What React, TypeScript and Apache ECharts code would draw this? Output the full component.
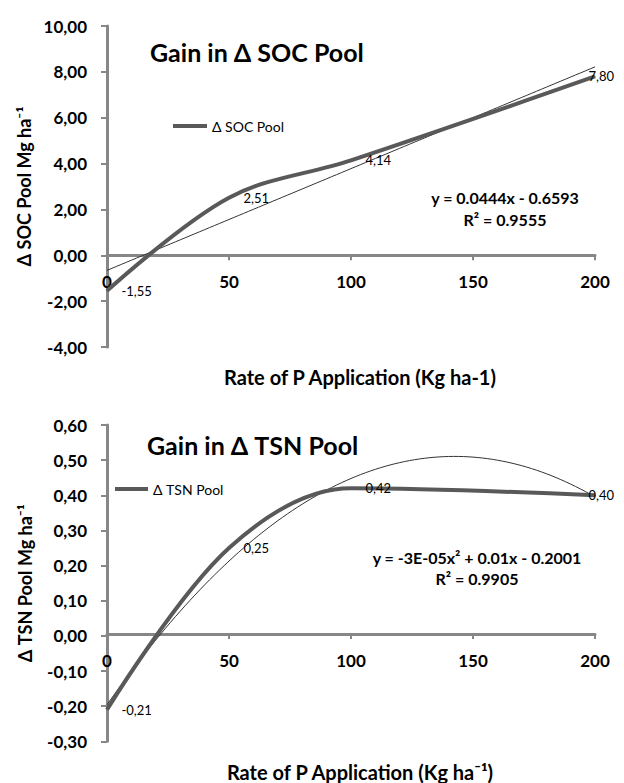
import React, { useEffect, useRef } from 'react';
import * as echarts from 'echarts';

const rates = [0, 50, 100, 200];
const socGain = [-1.55, 2.51, 4.14, 7.8];
const tsnGain = [-0.21, 0.25, 0.42, 0.4];
const socName = 'Δ SOC Pool';
const tsnName = 'Δ TSN Pool';
const socTitle = 'Gain in Δ SOC Pool';
const tsnTitle = 'Gain in Δ TSN Pool';
const socEquation = ['y = 0.0444x - 0.6593', 'R² = 0.9555'];
const tsnEquation = ['y = -3E-05x² + 0.01x - 0.2001', 'R² = 0.9905'];
const xAxisTitles = ['Rate of P Application (Kg ha-1)', 'Rate of P Application (Kg ha⁻¹)'];
const yAxisTitles = ['Δ SOC Pool Mg ha⁻¹', 'Δ TSN Pool Mg ha⁻¹'];
const socRange = [-4, 10, 2];
const tsnRange = [-0.3, 0.6, 0.1];

const FONT = 'Lato, "Open Sans", sans-serif';

// least-squares polynomial fit (degree 1 or 2) of the plotted data
function polyFit(xs: number[], ys: number[], deg: number): number[] {
  const n = deg + 1;
  const A: number[][] = [];
  for (let i = 0; i < n; i++) {
    const row: number[] = [];
    for (let j = 0; j < n; j++) {
      row.push(xs.reduce((s, x) => s + Math.pow(x, i + j), 0));
    }
    row.push(xs.reduce((s, x, k) => s + Math.pow(x, i) * ys[k], 0));
    A.push(row);
  }
  for (let i = 0; i < n; i++) {
    let p = i;
    for (let r = i + 1; r < n; r++) if (Math.abs(A[r][i]) > Math.abs(A[p][i])) p = r;
    [A[i], A[p]] = [A[p], A[i]];
    for (let r = 0; r < n; r++) {
      if (r === i) continue;
      const f = A[r][i] / A[i][i];
      for (let c = i; c <= n; c++) A[r][c] -= f * A[i][c];
    }
  }
  return A.map((row, i) => row[n] / row[i]);
}

function trendPoints(coef: number[]): number[][] {
  const pts: number[][] = [];
  for (let x = 0; x <= 200; x += 2) {
    let y = 0;
    coef.forEach((c, i) => (y += c * Math.pow(x, i)));
    pts.push([x, y]);
  }
  return pts;
}

const fmt = (v: number) => v.toFixed(2).replace('.', ',');

export default function App() {
  const ref = useRef<HTMLDivElement>(null);
  useEffect(() => {
    if (!ref.current) return;
    const chart = echarts.init(ref.current, undefined, { renderer: 'svg' });
    const axisGray = '#878787';
    const lineGray = '#595959';
    const grids = [
      { left: 107, top: 26, width: 488, height: 321 },
      { left: 107, top: 425, width: 488, height: 322 },
    ];
    const ranges = [socRange, tsnRange];
    // distance of the zero line above the grid bottom
    const zeroOffset = (gi: number) => {
      const [mn, mx] = ranges[gi];
      return (grids[gi].height * (0 - mn)) / (mx - mn);
    };

    const mkData = (ys: number[]) =>
      rates.map((x, i) =>
        i === rates.length - 1
          ? { value: [x, ys[i]], label: { offset: [-21, 0] } }
          : { value: [x, ys[i]] }
      );

    const xAxisBase = (gi: number, gap: number) => ({
      type: 'value',
      gridIndex: gi,
      position: 'bottom',
      offset: -zeroOffset(gi),
      min: 0,
      max: 200,
      interval: 50,
      axisLine: { onZero: false, lineStyle: { color: axisGray, width: 3 } },
      axisTick: { show: true, length: 5, lineStyle: { color: axisGray, width: 2 } },
      axisLabel: { margin: 18, fontSize: 17, fontWeight: 'bold', color: '#000', fontFamily: FONT },
      splitLine: { show: false },
      name: xAxisTitles[gi],
      nameLocation: 'middle',
      nameGap: gap,
      nameTextStyle: { fontSize: 20, fontWeight: 'bold', color: '#000', fontFamily: FONT, padding: [0, 0, 0, 18] },
    });
    const yAxisBase = (gi: number) => ({
      type: 'value',
      gridIndex: gi,
      min: ranges[gi][0],
      max: ranges[gi][1],
      interval: ranges[gi][2],
      axisLine: { show: true, onZero: false, lineStyle: { color: axisGray, width: 3 } },
      axisTick: { show: true, length: 6, lineStyle: { color: axisGray, width: 2 } },
      axisLabel: { margin: 20, fontSize: 17, fontWeight: 'bold', color: '#000', fontFamily: FONT, formatter: (v: number) => fmt(v) },
      splitLine: { show: false },
      name: yAxisTitles[gi],
      nameLocation: 'middle',
      nameRotate: 90,
      nameGap: 73,
      nameTextStyle: { fontSize: 18, fontWeight: 'bold', color: '#000', fontFamily: FONT },
    });

    const thick = (name: string, ys: number[], gi: number) => ({
      name,
      type: 'line',
      xAxisIndex: gi,
      yAxisIndex: gi,
      smooth: 0.35,
      symbol: 'circle',
      symbolSize: 1,
      z: 3,
      lineStyle: { width: 4, color: lineGray },
      itemStyle: { color: lineGray },
      label: {
        show: true,
        position: 'right',
        distance: 14,
        fontSize: 13,
        color: '#000',
        fontFamily: FONT,
        formatter: (p: any) => fmt(p.value[1]),
      },
      data: mkData(ys),
    });
    const trend = (ys: number[], deg: number, gi: number) => ({
      name: 'trend' + gi,
      type: 'line',
      xAxisIndex: gi,
      yAxisIndex: gi,
      showSymbol: false,
      silent: true,
      z: 2,
      lineStyle: { width: 1, color: '#333' },
      data: trendPoints(polyFit(rates, ys, deg)),
    });

    const eqText = (lines: string[], cx: number, y1: number, y2: number) =>
      lines.map((t, i) => ({
        type: 'text',
        x: cx,
        y: i === 0 ? y1 : y2,
        style: { text: t, align: 'center', verticalAlign: 'middle', fontSize: 16, fontWeight: 'bold', fill: '#000', fontFamily: FONT },
      }));

    chart.setOption({
      animation: false,
      backgroundColor: '#fff',
      title: [
        { text: socTitle, left: 150, top: 39, padding: 0, textStyle: { fontSize: 25, fontWeight: 'bold', color: '#000', fontFamily: FONT } },
        { text: tsnTitle, left: 147, top: 432, padding: 0, textStyle: { fontSize: 25, fontWeight: 'bold', color: '#000', fontFamily: FONT } },
      ],
      legend: [
        { data: [socName], left: 173, top: 119, padding: 0, icon: 'rect', itemWidth: 34, itemHeight: 4, textStyle: { fontSize: 14, color: '#000', fontFamily: FONT } },
        { data: [tsnName], left: 115, top: 482, padding: 0, icon: 'rect', itemWidth: 33, itemHeight: 4, textStyle: { fontSize: 14, color: '#000', fontFamily: FONT } },
      ],
      grid: grids,
      xAxis: [xAxisBase(0, 112), xAxisBase(1, 128)],
      yAxis: [yAxisBase(0), yAxisBase(1)],
      series: [
        thick(socName, socGain, 0),
        trend(socGain, 1, 0),
        thick(tsnName, tsnGain, 1),
        trend(tsnGain, 2, 1),
      ],
      graphic: [...eqText(socEquation, 505, 197, 219), ...eqText(tsnEquation, 477, 557, 578)],
    });
    return () => chart.dispose();
  }, []);
  return <div ref={ref} style={{ position: 'absolute', left: 0, top: 0, width: 624, height: 783 }} />;
}
